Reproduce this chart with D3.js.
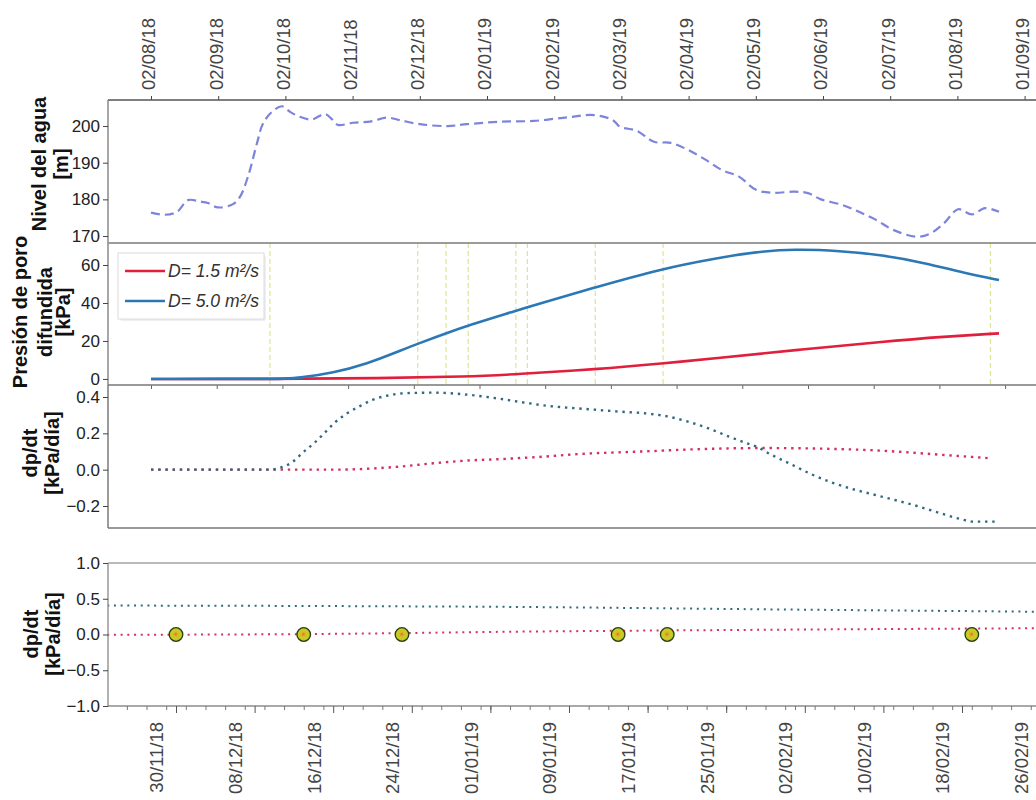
<!DOCTYPE html>
<html><head><meta charset="utf-8">
<script src="https://cdn.jsdelivr.net/npm/d3@7"></script>
<style>
body{margin:0;background:#fff;}
svg{display:block;font-family:"Liberation Sans",Arial,Helvetica,sans-serif;}
</style></head><body>
<svg id="chart" width="1036" height="800"></svg>
<script>
// ---------- DATA ----------
// top time axis (month index 0..13, evenly spaced ticks)
const topTickLabels = ["02/08/18","02/09/18","02/10/18","02/11/18","02/12/18","02/01/19","02/02/19","02/03/19","02/04/19","02/05/19","02/06/19","02/07/19","01/08/19","01/09/19"];

// Panel 1: water level [m]
const levelMonth = [0,0.208,0.387,0.551,0.729,0.848,0.997,1.22,1.324,1.443,1.577,1.667,1.801,1.949,2.068,2.217,2.396,2.589,2.708,2.783,3.006,3.259,3.512,3.705,4.003,4.405,4.702,5.193,5.699,6.205,6.592,6.875,6.979,7.232,7.485,7.738,7.991,8.244,8.497,8.75,9.003,9.256,9.568,9.777,9.97,10.283,10.536,10.789,11.042,11.399,11.607,11.801,12.009,12.217,12.411,12.619];
const levelValue = [176.4,175.8,176.6,179.8,179.4,179.0,177.8,178.7,180.7,186.2,195.3,200.7,203.9,205.4,203.9,202.5,201.8,203.3,201.6,200.3,200.9,201.2,202.3,201.6,200.5,200.0,200.5,201.2,201.4,202.4,203.0,201.6,199.8,198.7,195.7,195.4,193.5,190.9,188.0,186.2,182.6,181.8,182.1,181.7,180.0,178.5,176.6,174.4,171.7,169.8,170.8,173.5,177.3,175.9,177.6,176.6];

// Panel 2: diffused pore pressure [kPa]
const seriesNames = ["D= 1.5 m²/s","D= 5.0 m²/s"];
const pRedMonth = [0,1.771,3.408,4.717,5.446,6.622,7.634,8.393,9.628,10.878,11.815,12.619];
const pRedValue = [0,0,0.3,1.2,2.5,5.1,8.2,10.9,15.3,19.6,22.3,24.0];
const pBlueMonth = [0,1.771,1.994,2.217,2.708,3.214,3.705,3.973,4.39,4.72,5.43,5.60,6.61,7.62,8.393,9.018,9.568,10.253,10.878,11.503,12.128,12.619];
const pBlueValue = [0,0,0.1,0.6,3.1,7.9,14.8,18.6,24.0,28.2,35.9,37.8,48.3,58.2,63.5,67.0,68.4,67.5,65.3,61.2,55.6,52.1];
// event lines (month index)
const eventMonth = [1.77,3.97,4.39,4.72,5.43,5.60,6.61,7.62,12.49];

// Panel 3: dp/dt [kPa/día]
const dRedMonth = [0,2.708,3.214,3.705,4.196,4.702,5.193,5.491,5.699,6.363,7.229,8.244,9.107,9.772,10.789,11.801,12.515];
const dRedValue = [0,0,0.005,0.017,0.035,0.05,0.058,0.064,0.068,0.086,0.099,0.114,0.119,0.117,0.106,0.081,0.062];
const dBlueMonth = [0,1.771,1.92,2.098,2.262,2.44,2.589,2.738,2.917,3.11,3.304,3.512,3.75,4.196,4.702,5.193,5.491,5.932,6.363,6.92,7.455,7.686,7.991,8.296,8.601,8.83,9.033,9.211,9.518,9.821,10.128,10.432,10.765,11.071,11.399,11.705,12.039,12.24,12.57];
const dBlueValue = [0,0,0.01,0.04,0.095,0.15,0.205,0.26,0.31,0.35,0.385,0.407,0.42,0.424,0.413,0.39,0.373,0.35,0.337,0.321,0.306,0.293,0.264,0.227,0.182,0.15,0.123,0.086,0.031,-0.024,-0.07,-0.106,-0.138,-0.167,-0.2,-0.235,-0.271,-0.286,-0.286];

// Panel 4: zoomed dp/dt
const bottomTickLabels = ["30/11/18","08/12/18","16/12/18","24/12/18","01/01/19","09/01/19","17/01/19","25/01/19","02/02/19","10/02/19","18/02/19","26/02/19"];
const zDates = ["23/11/18","15/12/18","04/01/19","29/01/19","26/02/19"];
const zRedValue = [-0.005,0.008,0.04,0.066,0.088];
const zBlueValue = [0.405,0.398,0.385,0.352,0.318];
const eventDates = ["30/11/18","13/12/18","23/12/18","14/01/19","19/01/19","19/02/19"];
const eventValue = [0,0,0,0,0,0];

// ---------- LAYOUT ----------
const svg = d3.select("#chart");
const L = 108, R = 1036;
const P1 = [100,243], P2 = [243,385], P3 = [385,528], P4 = [563,706];
const parse = d3.timeParse("%d/%m/%y");

const xm = d3.scaleLinear().domain([0,13]).range([151,1024.6]);
const xt = d3.scaleLinear().domain([0,13]).range([151,151+65.7*13]);
const xb = d3.scaleTime().domain([parse("30/11/18"), parse("18/02/19")]).range([176,962]);
const y1 = d3.scaleLinear().domain([168.1,207.1]).range([P1[1],P1[0]]);
const y2 = d3.scaleLinear().domain([-3.2,71.6]).range([P2[1],P2[0]]);
const y3 = d3.scaleLinear().domain([-0.321,0.466]).range([P3[1],P3[0]]);
const y4 = d3.scaleLinear().domain([-1,1]).range([P4[1],P4[0]]);

const defs = svg.append("defs");
[["c1",P1],["c2",P2],["c3",P3],["c4",P4]].forEach(([id,p])=>{
  defs.append("clipPath").attr("id",id).append("rect").attr("x",L).attr("y",p[0]).attr("width",R-L).attr("height",p[1]-p[0]);
});
const rg = defs.append("radialGradient").attr("id","dotg").attr("cx","48%").attr("cy","48%").attr("r","55%");
rg.append("stop").attr("offset","0%").attr("stop-color","#e8662a");
rg.append("stop").attr("offset","28%").attr("stop-color","#dcb824");
rg.append("stop").attr("offset","62%").attr("stop-color","#c4d024");
rg.append("stop").attr("offset","100%").attr("stop-color","#a2c11e");

const tickFont = 17, dateFont = 18.5;

function styleAxis(g){
  g.selectAll("path.domain").remove();
  g.selectAll("line").attr("stroke","#444").attr("stroke-width",1);
  g.selectAll("text").attr("font-size",tickFont).attr("fill","#222").attr("font-family","'Liberation Sans',Arial,sans-serif");
}
function yAxis(scale, vals, fmt){
  const g = svg.append("g").attr("transform",`translate(${L},0)`)
    .call(d3.axisLeft(scale).tickValues(vals).tickFormat(fmt).tickSize(5).tickPadding(3));
  styleAxis(g);
  return g;
}
function hline(y, x0, x1, color, w){
  svg.append("line").attr("x1",x0).attr("x2",x1).attr("y1",y).attr("y2",y).attr("stroke",color).attr("stroke-width",w);
}
function vline(x, y0, y1_, color, w){
  svg.append("line").attr("x1",x).attr("x2",x).attr("y1",y0).attr("y2",y1_).attr("stroke",color).attr("stroke-width",w);
}
function yTitle(lines, xs, cy){
  lines.forEach((t,i)=>svg.append("text")
    .attr("transform",`translate(${xs[i]},${cy}) rotate(-90)`)
    .attr("text-anchor","middle").attr("font-weight","bold").attr("font-size",20).attr("fill","#111").text(t));
}
function zip(xs, ys){ return xs.map((x,i)=>({x:x, y:ys[i]})); }

// ---------- PANEL 1 ----------
svg.append("path").attr("clip-path","url(#c1)")
  .datum(zip(levelMonth, levelValue))
  .attr("fill","none").attr("stroke","#7c84dc").attr("stroke-width",2.2).attr("stroke-dasharray","9,5")
  .attr("d", d3.line().x(d=>xm(d.x)).y(d=>y1(d.y)).curve(d3.curveCatmullRom.alpha(0.5)));

const topAx = svg.append("g").attr("transform",`translate(0,${P1[0]})`)
  .call(d3.axisTop(xm).tickValues(d3.range(topTickLabels.length)).tickFormat("").tickSize(4));
styleAxis(topAx);
svg.append("g").selectAll("text").data(topTickLabels).join("text")
  .attr("transform",(d,i)=>`translate(${xm(i)-2},90) rotate(-90)`)
  .attr("dy","0.35em").attr("text-anchor","start")
  .attr("font-size",dateFont).attr("fill","#444").text(d=>d);

hline(P1[0], L, R, "#555", 1.3);
vline(L, P1[0], P1[1], "#777", 1.3);
yAxis(y1, [170,180,190,200], d3.format("d"));
yTitle(["Nivel del agua","[m]"], [46,68], 164);

// ---------- PANEL 2 ----------
svg.append("g").selectAll("line").data(eventMonth).join("line")
  .attr("x1",d=>xm(d)).attr("x2",d=>xm(d)).attr("y1",P2[0]).attr("y2",P2[1])
  .attr("stroke","#d6df7a").attr("stroke-width",1).attr("stroke-dasharray","5,3");

const lineP = d3.line().x(d=>xm(d.x)).y(d=>y2(d.y)).curve(d3.curveBasis);
svg.append("path").attr("clip-path","url(#c2)").datum(zip(pRedMonth,pRedValue))
  .attr("fill","none").attr("stroke","#e11f3d").attr("stroke-width",2.6).attr("d",lineP);
svg.append("path").attr("clip-path","url(#c2)").datum(zip(pBlueMonth,pBlueValue))
  .attr("fill","none").attr("stroke","#2b78b6").attr("stroke-width",2.6).attr("d",lineP);

const p2ticks = svg.append("g").attr("transform",`translate(0,${P2[1]})`)
  .call(d3.axisBottom(xt).tickValues(d3.range(14)).tickFormat("").tickSize(4));
styleAxis(p2ticks);
p2ticks.selectAll("line").attr("stroke","#666");

vline(L, P2[0], P2[1], "#777", 1.3);
yAxis(y2, [0,20,40,60], d3.format("d"));
yTitle(["Presión de poro","difundida","[kPa]"], [27,52,70], 312);

// legend
const lg = svg.append("g");
lg.append("rect").attr("x",120).attr("y",255).attr("width",146).attr("height",66).attr("fill","#efefef").attr("rx",2);
lg.append("rect").attr("x",118).attr("y",253).attr("width",146).attr("height",66).attr("fill","#fff").attr("stroke","#dcdcdc").attr("stroke-width",1);
const legColors = ["#e11f3d","#2b78b6"];
seriesNames.forEach((n,i)=>{
  const yy = 271 + i*30;
  lg.append("line").attr("x1",125).attr("x2",165).attr("y1",yy).attr("y2",yy).attr("stroke",legColors[i]).attr("stroke-width",2.6);
  lg.append("text").attr("x",168).attr("y",yy).attr("dy","0.35em").attr("font-style","italic")
    .attr("font-size",17.5).attr("fill","#333").text(n);
});

// separators
hline(P2[0], L, R, "#9a9a9a", 2);
hline(P2[1], L, R, "#777", 1.5);

// ---------- PANEL 3 ----------
const lineD = d3.line().x(d=>xm(d.x)).y(d=>y3(d.y)).curve(d3.curveMonotoneX);
svg.append("path").attr("clip-path","url(#c3)").datum(zip(dRedMonth,dRedValue))
  .attr("fill","none").attr("stroke","#d3305f").attr("stroke-width",2.4).attr("stroke-dasharray","2.4,4.8").attr("d",lineD);
svg.append("path").attr("clip-path","url(#c3)").datum(zip(dBlueMonth,dBlueValue))
  .attr("fill","none").attr("stroke","#30697f").attr("stroke-width",2.4).attr("stroke-dasharray","2.4,4.8").attr("d",lineD);

vline(L, P3[0], P3[1], "#666", 1.3);
hline(P3[1], L, R, "#777", 1.5);
yAxis(y3, [-0.2,0,0.2,0.4], d3.format(".1f"));
yTitle(["dp/dt","[kPa/día]"], [37,59], 453);

// ---------- PANEL 4 ----------
const lineZ = d3.line().x(d=>xb(parse(d.x))).y(d=>y4(d.y)).curve(d3.curveMonotoneX);
svg.append("path").attr("clip-path","url(#c4)").datum(zip(zDates,zBlueValue))
  .attr("fill","none").attr("stroke","#2f6b7c").attr("stroke-width",2).attr("stroke-dasharray","2,4.7").attr("d",lineZ);
svg.append("path").attr("clip-path","url(#c4)").datum(zip(zDates,zRedValue))
  .attr("fill","none").attr("stroke","#d63060").attr("stroke-width",2).attr("stroke-dasharray","2,4.7").attr("d",lineZ);

svg.append("g").selectAll("circle").data(zip(eventDates,eventValue)).join("circle")
  .attr("cx",d=>xb(parse(d.x))).attr("cy",d=>y4(d.y)).attr("r",6.8)
  .attr("fill","url(#dotg)").attr("stroke","#2e3a12").attr("stroke-width",1.3);

hline(P4[0], L, R, "#777", 1.2);
vline(L, P4[0], P4[1], "#888", 1.3);
hline(P4[1], L, R, "#555", 1.2);
yAxis(y4, [-1,-0.5,0,0.5,1], d3.format(".1f"));
yTitle(["dp/dt","[kPa/día]"], [38,60], 634);

// bottom axis
const minorDates = d3.timeDay.every(2).range(parse("24/11/18"), parse("02/03/19"));
const bAxMinor = svg.append("g").attr("transform",`translate(0,${P4[1]})`)
  .call(d3.axisBottom(xb).tickValues(minorDates.filter(d=>xb(d)>=L && xb(d)<=R)).tickFormat("").tickSize(4));
styleAxis(bAxMinor);
bAxMinor.selectAll("line").attr("stroke","#777");
const majorDates = bottomTickLabels.map(parse);
const bAx = svg.append("g").attr("transform",`translate(0,${P4[1]})`)
  .call(d3.axisBottom(xb).tickValues(majorDates.filter(d=>xb(d)<=R)).tickFormat("").tickSize(7));
styleAxis(bAx);
bAx.selectAll("line").attr("stroke","#555");
svg.append("g").selectAll("text").data(bottomTickLabels).join("text")
  .attr("transform",d=>`translate(${xb(parse(d))-19},722) rotate(-90)`)
  .attr("dy","0.35em").attr("text-anchor","end")
  .attr("font-size",dateFont).attr("fill","#444").text(d=>d);
</script>
</body></html>
